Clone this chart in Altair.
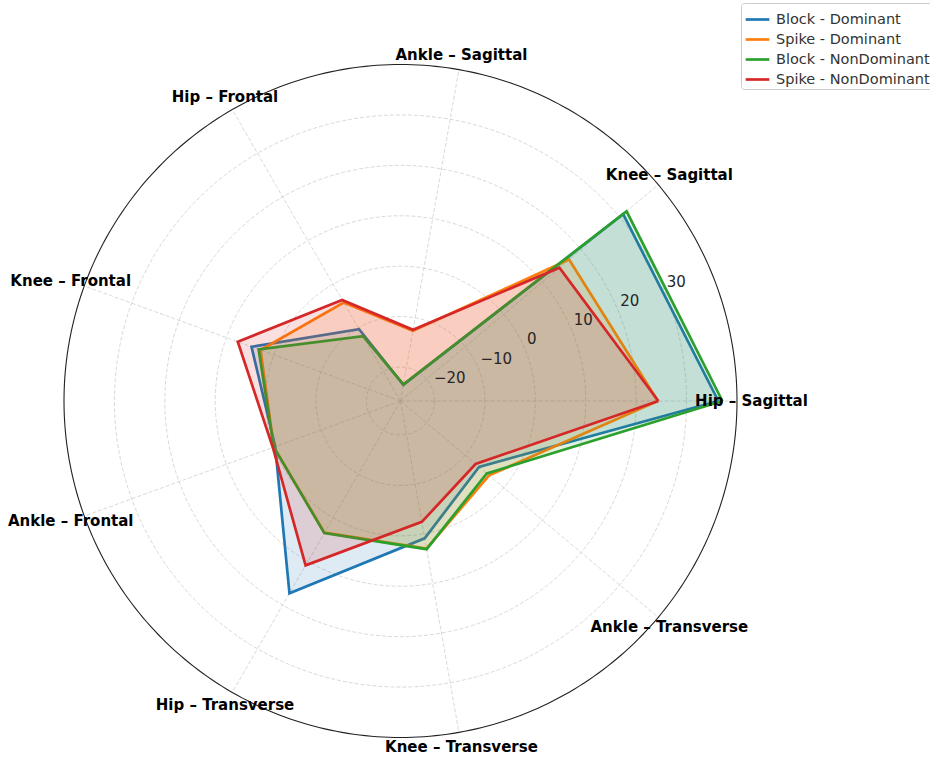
import altair as alt
import pandas as pd

categories = ["Hip – Sagittal", "Knee – Sagittal", "Ankle – Sagittal", "Hip – Frontal",
              "Knee – Frontal", "Ankle – Frontal", "Hip – Transverse", "Knee – Transverse",
              "Ankle – Transverse"]
series_names = ["Block - Dominant", "Spike - Dominant", "Block - NonDominant", "Spike - NonDominant"]
block_dominant = [36.3, 30.9, -23.5, -10.3, 4.7, -0.3, 17.3, 0.9, -6.4]
spike_dominant = [24.3, 16.9, -12.6, -4.2, 2.8, 0.0, 3.4, 3.0, -3.8]
block_nondominant = [37.1, 31.8, -23.4, -11.9, 3.2, 0.0, 3.5, 3.1, -4.4]
spike_nondominant = [24.4, 14.4, -12.4, -3.6, 7.6, 0.2, 10.9, -2.4, -7.3]
tick_values = [-20, -10, 0, 10, 20, 30]
tick_labels = ["−20", "−10", "0", "10", "20", "30"]
colors = ["#1f77b4", "#ff7f0e", "#2ca02c", "#d62728"]

R_MIN, R_MAX = -26.75, 40.0
N = len(categories)
SPAN = R_MAX - R_MIN
FONT = "DejaVu Sans"

# long table of polygon vertices (first vertex repeated to close each polygon)
rows = []
for s, vals in zip(series_names, [block_dominant, spike_dominant, block_nondominant, spike_nondominant]):
    for i, v in enumerate(vals + vals[:1]):
        rows.append({"series": s, "idx": i, "value": v})
poly = pd.DataFrame(rows)

grid_rows = []
for t in tick_values:
    for a in range(0, 361, 2):
        grid_rows.append({"tick": t, "deg": a})
grid = pd.DataFrame(grid_rows)
outer = pd.DataFrame({"deg": list(range(0, 361, 1))})
cats = pd.DataFrame({"label": categories, "idx": list(range(N))})
ticks = pd.DataFrame({"tick": tick_values, "text": tick_labels})

xs = alt.Scale(domain=[-1, 1], nice=False, zero=False)
ys = alt.Scale(domain=[-1, 1], nice=False, zero=False)
X = lambda f: alt.X(f, type="quantitative", scale=xs, axis=None)
Y = lambda f: alt.Y(f, type="quantitative", scale=ys, axis=None)

ang = f"datum.idx * 2 * PI / {N}"
rn = f"(datum.value - ({R_MIN})) / {SPAN}"

# grid circles
grid_layer = alt.Chart(grid).transform_calculate(
    rn=f"(datum.tick - ({R_MIN})) / {SPAN}",
    x="datum.rn * cos(datum.deg * PI / 180)",
    y="datum.rn * sin(datum.deg * PI / 180)",
).mark_line(color="#cfcfcf", strokeWidth=0.8, strokeDash=[4, 2]).encode(
    x=X("x"), y=Y("y"), detail="tick:N", order="deg:Q"
)

spokes = alt.Chart(cats).transform_calculate(
    x0="0", y0="0",
    x=f"cos({ang})", y=f"sin({ang})",
).mark_rule(color="#cfcfcf", strokeWidth=0.8, strokeDash=[4, 2]).encode(
    x=X("x0"), y=Y("y0"), x2="x:Q", y2="y:Q"
)

outer_layer = alt.Chart(outer).transform_calculate(
    x="cos(datum.deg * PI / 180)", y="sin(datum.deg * PI / 180)"
).mark_line(color="#222222", strokeWidth=1.1).encode(
    x=X("x"), y=Y("y"), order="deg:Q"
)

layers = [grid_layer, spokes, outer_layer]
for s, c in zip(series_names, colors):
    base = alt.Chart(poly).transform_filter(alt.datum.series == s).transform_calculate(
        rn=rn, ang=ang
    ).transform_calculate(
        x="datum.rn * cos(datum.ang)", y="datum.rn * sin(datum.ang)"
    )
    fill_layer = base.mark_line(fill=c, fillOpacity=0.15, strokeOpacity=0).encode(
        x=X("x"), y=Y("y"), order="idx:Q"
    )
    line_layer = base.mark_line(strokeWidth=2.7, strokeJoin="miter").encode(
        x=X("x"), y=Y("y"), order="idx:Q",
        color=alt.Color("series:N", scale=alt.Scale(domain=series_names, range=colors),
                        legend=alt.Legend(title=None, orient="none", legendX=677, legendY=-61.5,
                                          symbolType="stroke", symbolStrokeWidth=2.7,
                                          symbolSize=560, labelFont=FONT, labelFontSize=14.5,
                                          labelColor="#333333", labelOffset=5,
                                          strokeColor="#cccccc", fillColor="white",
                                          padding=3, cornerRadius=3, rowPadding=0,
                                          labelLimit=300)),
    )
    layers += [fill_layer, line_layer]

cat_labels = alt.Chart(cats).transform_calculate(
    x=f"1.043 * cos({ang})", y=f"1.043 * sin({ang})"
).mark_text(font=FONT, fontSize=15, fontWeight="bold", color="black",
            align="center", baseline="middle").encode(
    x=X("x"), y=Y("y"), text="label:N"
)

tick_text = alt.Chart(ticks).transform_calculate(
    rn=f"(datum.tick - ({R_MIN})) / {SPAN}",
    x="datum.rn * cos(22.5 * PI / 180)", y="datum.rn * sin(22.5 * PI / 180)",
).mark_text(font=FONT, fontSize=15, color="#262626", align="left", baseline="bottom",
            dx=2, dy=-2).encode(
    x=X("x"), y=Y("y"), text="text:N"
)

layers += [cat_labels, tick_text]

chart = alt.layer(*layers).properties(
    width=673, height=673,
    autosize=alt.AutoSizeParams(type="none"),
    padding={"left": 64, "top": 64.5, "right": 193, "bottom": 20},
).configure_view(strokeWidth=0)

chart.save("out.html", embed_options={"renderer": "svg", "actions": False})
